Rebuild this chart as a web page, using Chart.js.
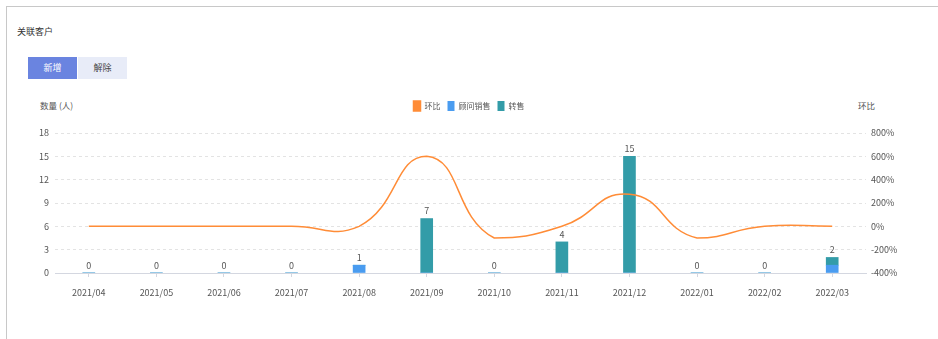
<!DOCTYPE html>
<html lang="zh">
<head>
<meta charset="UTF-8">
<title>关联客户</title>
<script src="https://cdn.jsdelivr.net/npm/chart.js"></script>
<style>
  body { margin: 0; background: #fff; font-family: "Noto Sans CJK SC", sans-serif; }
  .panel { position: absolute; left: 6px; top: 6px; right: 0; bottom: 0; border-left: 1px solid #c8c8c8; border-top: 1px solid #c8c8c8; }
  .title { position: absolute; left: 17px; top: 25px; font-size: 9px; color: #333; }
  .tabs { position: absolute; left: 28px; top: 57px; display: flex; }
  .tab { width: 49px; height: 22px; line-height: 22px; text-align: center; font-size: 9px; }
  .tab.on { background: #6a84e0; color: #fff; }
  .tab.off { background: #e8ecf8; color: #444; margin-left: 1px; }
  .axis-name { position: absolute; top: 99px; font-size: 8.5px; color: #555; }
  .chart-box { position: absolute; left: 0; top: 94px; width: 938px; height: 216px; }
</style>
</head>
<body>
<div class="panel"></div>
<div class="title">关联客户</div>
<div class="tabs"><div class="tab on">新增</div><div class="tab off">解除</div></div>
<div class="axis-name" style="left:40px">数量 (人)</div>
<div class="axis-name" style="left:858px">环比</div>
<div class="chart-box"><canvas id="relChart"></canvas></div>

<script>
const months = ['2021/04', '2021/05', '2021/06', '2021/07', '2021/08', '2021/09',
                '2021/10', '2021/11', '2021/12', '2022/01', '2022/02', '2022/03'];
const advisorSales = [0, 0, 0, 0, 1, 0, 0, 0, 0, 0, 0, 1];   // 顾问销售
const resale = [0, 0, 0, 0, 0, 7, 0, 4, 15, 0, 0, 1];        // 转售
const ratio = [0, 0, 0, 0, 0, 600, -100, 0, 275, -100, 0, 0]; // 环比 %

const tickFont = { family: 'Noto Sans CJK SC', size: 9 };

// total label over each stacked column
const totalLabels = {
    id: 'totalLabels',
    afterDatasetsDraw(chart) {
        const ctx = chart.ctx;
        const x = chart.scales.x, y = chart.scales.y;
        ctx.save();
        ctx.font = '9px "Noto Sans CJK SC"';
        ctx.fillStyle = '#555';
        ctx.textAlign = 'center';
        ctx.textBaseline = 'bottom';
        months.forEach((m, i) => {
            const total = advisorSales[i] + resale[i];
            ctx.fillText(String(total), x.getPixelForValue(i), y.getPixelForValue(total) - 3);
        });
        ctx.restore();
    }
};

// keep the curve's control points inside the data's own min/max band
const clampCurve = {
    id: 'clampCurve',
    beforeDatasetDraw(chart, args) {
        const meta = args.meta;
        if (meta.type !== 'line') return;
        const line = meta.dataset;
        if (line.updateControlPoints) line.updateControlPoints(chart.chartArea, 'x');
        const pts = meta.data;
        const ys = pts.map(p => p.y);
        const top = Math.min(...ys), bottom = Math.max(...ys);
        pts.forEach(p => {
            if (p.cp1y !== undefined) p.cp1y = Math.min(bottom, Math.max(top, p.cp1y));
            if (p.cp2y !== undefined) p.cp2y = Math.min(bottom, Math.max(top, p.cp2y));
        });
    }
};

// extra room below the legend
const legendGap = {
    id: 'legendGap',
    beforeInit(chart) {
        const fit = chart.legend.fit;
        chart.legend.fit = function () {
            fit.bind(chart.legend)();
            this.height += 12;
        };
    }
};

new Chart(document.getElementById('relChart'), {
    type: 'bar',
    data: {
        labels: months,
        datasets: [
            {
                type: 'line',
                label: '环比',
                data: ratio,
                yAxisID: 'y1',
                borderColor: '#ff8c37',
                backgroundColor: '#ff8c37',
                borderWidth: 1.5,
                pointRadius: 0,
                tension: 0.5,
                capBezierPoints: false,
                order: 0
            },
            {
                label: '顾问销售',
                data: advisorSales,
                backgroundColor: '#4a9cf0',
                barThickness: 12,
                order: 1
            },
            {
                label: '转售',
                data: resale,
                backgroundColor: '#339ca8',
                barThickness: 12,
                order: 1
            }
        ]
    },
    options: {
        responsive: true,
        maintainAspectRatio: false,
        animation: false,
        layout: { padding: 0 },
        plugins: {
            legend: {
                position: 'top',
                labels: {
                    boxWidth: 7,
                    boxHeight: 10,
                    padding: 7,
                    color: '#555',
                    font: { family: 'Noto Sans CJK SC', size: 8 },
                    sort: (a, b) => a.datasetIndex - b.datasetIndex
                }
            },
            tooltip: { enabled: false }
        },
        scales: {
            x: {
                stacked: true,
                afterFit: s => { s.height = 37; },
                grid: { drawOnChartArea: false, offset: false, tickLength: 4, color: '#d4d7e0' },
                border: { color: '#d4d7e0', width: 1 },
                ticks: { color: '#555', font: tickFont, padding: 10 }
            },
            y: {
                stacked: true,
                min: 0,
                max: 18,
                afterFit: s => { s.width = 55; },
                ticks: { stepSize: 3, color: '#555', font: tickFont, padding: 6 },
                grid: { color: '#e3e3e3', drawTicks: false },
                border: { display: false, dash: [3, 3] }
            },
            y1: {
                position: 'right',
                min: -400,
                max: 800,
                afterFit: s => { s.width = 72; },
                ticks: { stepSize: 200, color: '#555', font: tickFont, padding: 5, callback: v => v + '%' },
                grid: { drawOnChartArea: false, drawTicks: false },
                border: { display: false }
            }
        }
    },
    plugins: [totalLabels, clampCurve, legendGap]
});
</script>
</body>
</html>
